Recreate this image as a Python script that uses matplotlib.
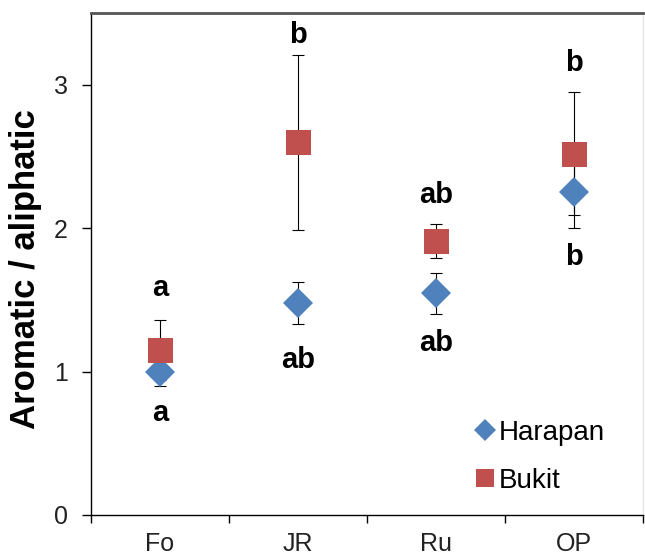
import numpy as np
import matplotlib.pyplot as plt

plt.rcParams['font.family'] = ['Liberation Sans', 'DejaVu Sans']

sites = ['Fo', 'JR', 'Ru', 'OP']

harapan_mean = [1.00, 1.48, 1.545, 2.25]
harapan_err  = [0.10, 0.145, 0.145, 0.25]
bukit_mean   = [1.15, 2.60, 1.91, 2.52]
bukit_err    = [0.21, 0.61, 0.12, 0.43]

# significance letters: (text, y position) above and below each site
letters_top    = ['a', 'b', 'ab', 'b']
letters_top_y  = [1.58, 3.35, 2.23, 3.15]
letters_bot    = ['a', 'ab', 'ab', 'b']
letters_bot_y  = [0.71, 1.08, 1.20, 1.80]

blue = '#4F81BD'
red  = '#C0504D'

fig = plt.figure(figsize=(6.45, 5.56), dpi=100)
ax = fig.add_axes([91/645, 41/556, 552/645, 502/556])

x = np.arange(1, len(sites) + 1)

ax.errorbar(x, harapan_mean, yerr=harapan_err, fmt='none', ecolor='black',
            elinewidth=0.8, capsize=4, capthick=0.8, zorder=2)
ax.errorbar(x, bukit_mean, yerr=bukit_err, fmt='none', ecolor='black',
            elinewidth=0.8, capsize=4, capthick=0.8, zorder=2)
ax.plot(x, harapan_mean, ls='none', marker='D', ms=15.5, mew=0,
        color=blue, label='Harapan', zorder=3)
ax.plot(x, bukit_mean, ls='none', marker='s', ms=18, mew=0,
        color=red, label='Bukit', zorder=4)

for xi, t, y in zip(x, letters_top, letters_top_y):
    ax.text(xi, y, t, ha='center', va='center', fontsize=21, fontweight='bold')
for xi, t, y in zip(x, letters_bot, letters_bot_y):
    ax.text(xi, y, t, ha='center', va='center', fontsize=21, fontweight='bold')

ax.set_xlim(0.5, 4.5)
ax.set_ylim(0, 3.5)

# category boundaries as tick marks, names centred between them
ax.set_xticks(np.arange(0.5, 4.6, 1.0))
ax.set_xticklabels([])
ax.set_xticks(x, minor=True)
ax.set_xticklabels(sites, minor=True)
ax.tick_params(axis='x', which='major', direction='out', length=6, width=1)
ax.tick_params(axis='x', which='minor', length=0, pad=12, labelsize=18,
               labelcolor='#222222')

ax.set_yticks([0, 1, 2, 3])
ax.tick_params(axis='y', direction='out', length=6.5, width=1, pad=10,
               labelsize=18, labelcolor='#222222')

ax.set_ylabel('Aromatic / aliphatic', fontsize=25, fontweight='bold')
ax.yaxis.set_label_coords(-0.088, 0.49)

for side in ['left', 'bottom']:
    ax.spines[side].set_color('black')
    ax.spines[side].set_linewidth(1)
ax.spines['top'].set_color('#555555')
ax.spines['top'].set_linewidth(2)
ax.spines['right'].set_color('#e6e6e6')
ax.spines['right'].set_linewidth(1)

ax.legend(loc='lower left', bbox_to_anchor=(0.674, 0.014), frameon=False,
          fontsize=20, markerscale=0.75, handlelength=0.6, handletextpad=0.2,
          labelspacing=0.8, borderpad=0)

fig.savefig('out.png', dpi=100)
